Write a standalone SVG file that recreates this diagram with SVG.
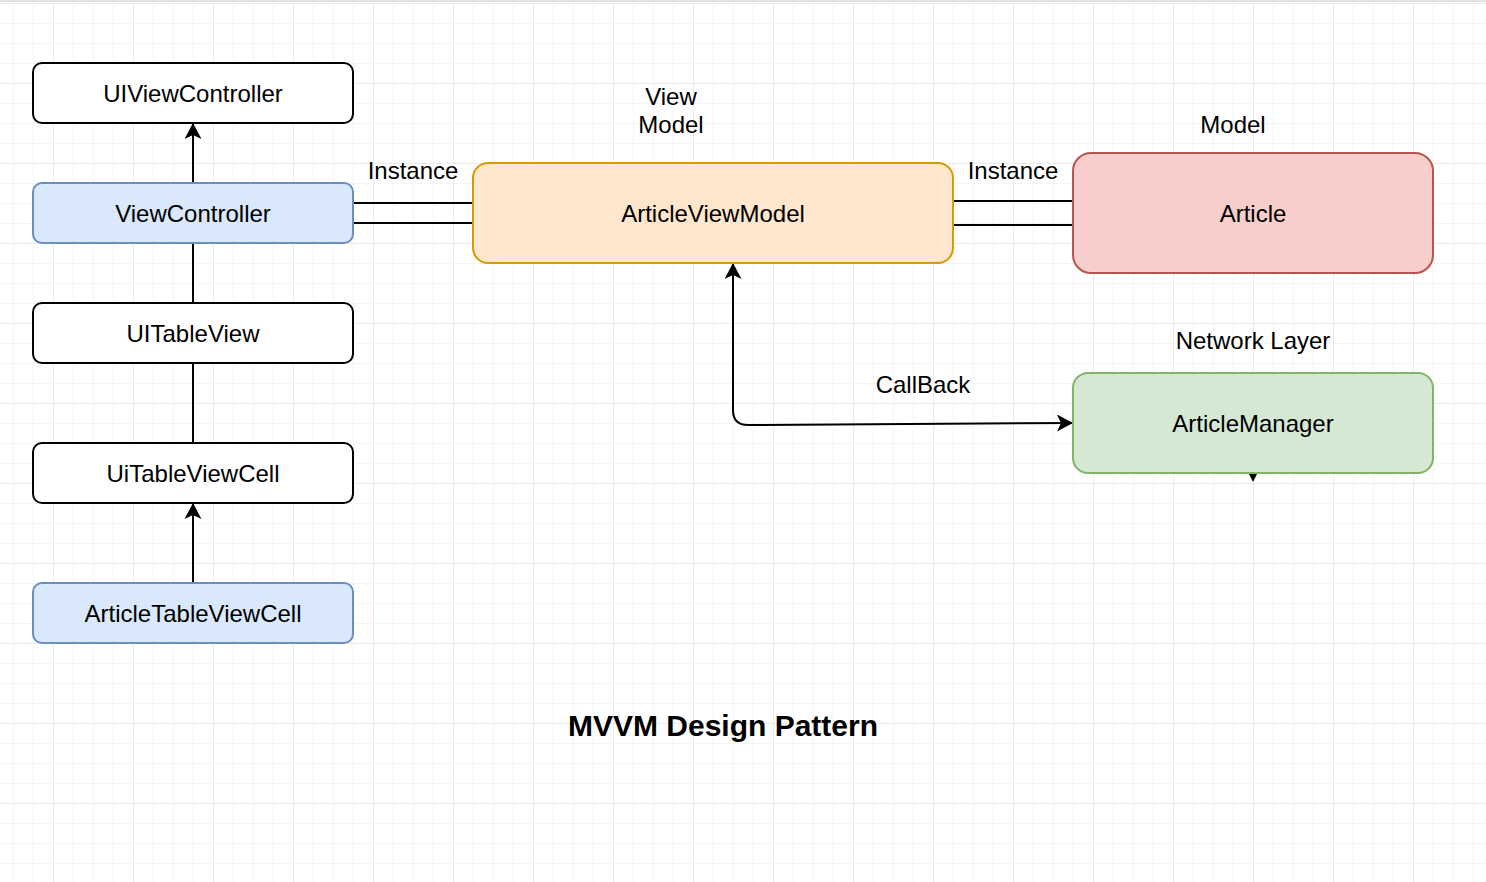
<svg xmlns="http://www.w3.org/2000/svg" width="1486" height="882" viewBox="0 0 1486 882">
<defs>
<pattern id="minor" width="20" height="20" patternUnits="userSpaceOnUse" x="13" y="3">
<path d="M0,0 H20 M0,0 V20" fill="none" stroke="#f2f2f2" stroke-width="1.5"/>
</pattern>
<pattern id="major" width="80" height="80" patternUnits="userSpaceOnUse" x="53" y="3">
<path d="M0,0 H80 M0,0 V80" fill="none" stroke="#e6e6e6" stroke-width="1.5"/>
</pattern>
<marker id="arr" viewBox="0 0 16 17" refX="15" refY="8.5" markerWidth="16" markerHeight="17" markerUnits="userSpaceOnUse" orient="auto">
<path d="M0,0 L16,8.5 L0,17 L4,8.5 Z" fill="#000"/>
</marker>
<marker id="arrs" viewBox="0 0 16 17" refX="15" refY="8.5" markerWidth="16" markerHeight="17" markerUnits="userSpaceOnUse" orient="auto-start-reverse">
<path d="M0,0 L16,8.5 L0,17 L4,8.5 Z" fill="#000"/>
</marker>
</defs>
<style>
text{font-family:"Liberation Sans",Arial,sans-serif;font-size:24px;fill:#000;text-anchor:middle}
.title{font-weight:bold;font-size:30px}
.n{stroke-width:2}
.plain{fill:#fff;stroke:#000}
.blue{fill:#dae8fc;stroke:#6c8ebf}
.orange{fill:#ffe6cc;stroke:#d79b00}
.red{fill:#f8cecc;stroke:#b85450}
.green{fill:#d5e8d4;stroke:#82b366}
.c{fill:none;stroke:#000;stroke-width:2}
</style>
<rect width="1486" height="882" fill="#fff"/>
<rect width="1486" height="882" fill="url(#minor)"/>
<rect width="1486" height="882" fill="url(#major)"/>
<rect x="0" y="0" width="1486" height="2" fill="#e3e3e3"/>

<g id="connectors">
<path class="c" d="M193,183 V124" marker-end="url(#arr)"/>
<path class="c" d="M193,243 V303"/>
<path class="c" d="M193,363 V443"/>
<path class="c" d="M193,583 V504" marker-end="url(#arr)"/>
<path class="c" d="M353,203 H473 M353,223 H473"/>
<path class="c" d="M953,201 H1073 M953,225 H1073"/>
<path class="c" d="M733,264 V410 Q733,425 748,425 L1072,423" marker-start="url(#arrs)" marker-end="url(#arr)"/>
<path d="M1249,474 L1257,474 L1253,482 Z" fill="#000"/>
</g>

<g id="n-uiviewcontroller"><rect class="n plain" x="33" y="63" width="320" height="60" rx="9"/><text x="193" y="102">UIViewController</text></g>
<g id="n-viewcontroller"><rect class="n blue" x="33" y="183" width="320" height="60" rx="9"/><text x="193" y="222">ViewController</text></g>
<g id="n-uitableview"><rect class="n plain" x="33" y="303" width="320" height="60" rx="9"/><text x="193" y="342">UITableView</text></g>
<g id="n-uitableviewcell"><rect class="n plain" x="33" y="443" width="320" height="60" rx="9"/><text x="193" y="482">UiTableViewCell</text></g>
<g id="n-articletableviewcell"><rect class="n blue" x="33" y="583" width="320" height="60" rx="9"/><text x="193" y="622">ArticleTableViewCell</text></g>
<g id="n-articleviewmodel"><rect class="n orange" x="473" y="163" width="480" height="100" rx="15"/><text x="713" y="222">ArticleViewModel</text></g>
<g id="n-article"><rect class="n red" x="1073" y="153" width="360" height="120" rx="18"/><text x="1253" y="222">Article</text></g>
<g id="n-articlemanager"><rect class="n green" x="1073" y="373" width="360" height="100" rx="15"/><text x="1253" y="432">ArticleManager</text></g>

<g id="labels">
<text x="671" y="105">View</text>
<text x="671" y="133">Model</text>
<text x="1233" y="133">Model</text>
<text x="413" y="179">Instance</text>
<text x="1013" y="179">Instance</text>
<text x="1253" y="349">Network Layer</text>
<text x="923" y="393">CallBack</text>
<text class="title" x="723" y="736">MVVM Design Pattern</text>
</g>
</svg>
